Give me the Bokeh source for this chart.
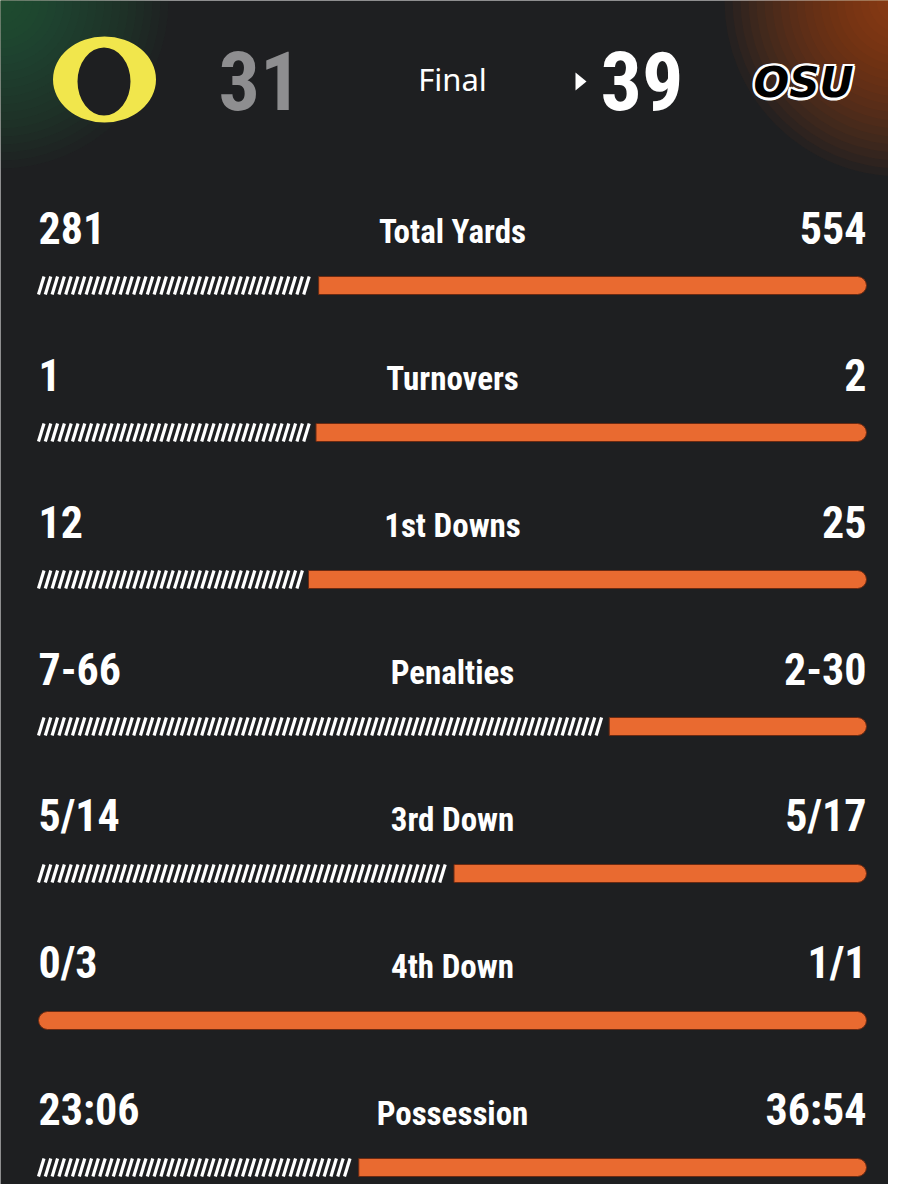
import numpy as np
from bokeh.plotting import figure
from bokeh.models import Range1d
from bokeh.core.properties import value
from bokeh.embed import file_html
from bokeh.resources import INLINE

# ---------------- data ----------------
stats = ["Total Yards", "Turnovers", "1st Downs", "Penalties", "3rd Down", "4th Down", "Possession"]
oregon_text = ["281", "1", "12", "7-66", "5/14", "0/3", "23:06"]
osu_text = ["554", "2", "25", "2-30", "5/17", "1/1", "36:54"]
oregon_value = [281, 1, 12, 66, 5, 0, 1386]
osu_value = [554, 2, 25, 30, 5, 1, 2214]
scores = ["31", "39"]
status = "Final"

# ---------------- style ----------------
BG = "#1e1f21"
ORANGE = "#e96a30"
YELLOW = "#f1e64c"
GRAY = "#8e8e90"
NUM_FONT = value("Roboto Condensed, DejaVu Sans Condensed, Roboto, sans-serif")
W, H = 888, 1184

# layout helpers: page pixel -> data units (x: share of bar, y: row index)
def X(px):
    return (px - 38) / 828.0

def Y(py):
    return (py - 285) / 147.0

p = figure(width=W, height=H,
           x_range=Range1d(X(0), X(W)), y_range=Range1d(Y(H), Y(0)),
           output_backend="svg", toolbar_location=None, min_border=0,
           x_axis_location=None, y_axis_location=None,
           background_fill_color=BG, border_fill_color=BG)
p.grid.visible = False
p.outline_line_color = None

# corner glows
radii = np.arange(8, 176, 8)
p.circle(x=[X(0)] * len(radii), y=[Y(0)] * len(radii), radius=radii, radius_units="screen",
         fill_color="#2f7a3d", fill_alpha=0.045, line_color=None)
radii2 = np.arange(8, 184, 8)
p.circle(x=[X(900)] * len(radii2), y=[Y(0)] * len(radii2), radius=radii2, radius_units="screen",
         fill_color="#c2561c", fill_alpha=0.05, line_color=None)

# ---------------- header ----------------
# Oregon "O"
p.ellipse(x=[X(104)], y=[Y(79)], width=[103 / 828], height=[86 / 147],
          fill_color=YELLOW, line_color=None)
p.ellipse(x=[X(103.5)], y=[Y(81)], width=[53 / 828], height=[68 / 147],
          fill_color=BG, line_color=None)
p.text(x=[X(218)], y=[Y(80)], text=[scores[0]], text_font=NUM_FONT, text_font_style="bold",
       text_font_size="82px", text_color=GRAY, text_align="left", text_baseline="alphabetic")
p.text(x=[X(452)], y=[Y(78)], text=[status], text_font=value("Noto Sans"),
       text_font_size="31px", text_color="white", text_align="center", text_baseline="alphabetic")
p.patch(x=[X(575), X(575), X(586)], y=[Y(72), Y(90), Y(81)],
        fill_color="white", line_color=None)
p.text(x=[X(600)], y=[Y(80)], text=[scores[1]], text_font=NUM_FONT, text_font_style="bold",
       text_font_size="82px", text_color="white", text_align="left", text_baseline="alphabetic")
# OSU logo approximation
offs = [(-2.5, 0), (2.5, 0), (0, -2.5), (0, 2.5), (-2, -2), (2, 2), (-2, 2), (2, -2)]
for dx, dy in offs:
    p.text(x=[X(803 + dx)], y=[Y(82 + dy)], text=["OSU"], text_font=value("DejaVu Sans"),
           text_font_style="bold italic", text_font_size="42px", text_color="white",
           text_align="center", text_baseline="alphabetic")
p.text(x=[X(803)], y=[Y(82)], text=["OSU"], text_font=value("DejaVu Sans"),
       text_font_style="bold italic", text_font_size="42px", text_color="black",
       text_align="center", text_baseline="alphabetic")

# ---------------- rows ----------------
rows = np.arange(len(stats))
share = np.array(oregon_value, float) / (np.array(oregon_value, float) + np.array(osu_value, float))
gap = 1.5 / 828
bar_h = 18 / 147
has_left = share > 0

# striped (Oregon) part: diagonal white stripes
step = 6.8 / 828
slant = 5.5 / 828
sx0, sx1, sy0, sy1 = [], [], [], []
for r, s in zip(rows, share):
    if s <= 0:
        continue
    xs = np.arange(0, s - gap - slant, step)
    sx0.extend(xs)
    sx1.extend(xs + slant)
    sy0.extend([r + bar_h / 2] * len(xs))
    sy1.extend([r - bar_h / 2] * len(xs))
p.segment(x0=sx0, y0=sy0, x1=sx1, y1=sy1, line_color="white", line_width=3.2)

p.hbar(y=rows[has_left], left=share[has_left] + gap, right=1, height=bar_h,
       fill_color=ORANGE, line_color="#6b2a12", line_width=1, border_radius=(0, 9, 9, 0))
p.hbar(y=rows[~has_left], left=0, right=1, height=bar_h,
       fill_color=ORANGE, line_color="#6b2a12", line_width=1, border_radius=9)

p.text(x=[0] * len(rows), y=rows - 58 / 147, text=oregon_text, text_font=NUM_FONT,
       text_font_style="bold", text_font_size="44px", text_color="white",
       text_align="left", text_baseline="alphabetic")
p.text(x=[1] * len(rows), y=rows - 58 / 147, text=osu_text, text_font=NUM_FONT,
       text_font_style="bold", text_font_size="44px", text_color="white",
       text_align="right", text_baseline="alphabetic")
p.text(x=[0.5] * len(rows), y=rows - 54 / 147, text=stats, text_font=NUM_FONT,
       text_font_style="bold", text_font_size="33px", text_color="white",
       text_align="center", text_baseline="alphabetic")

open("out.html", "w").write(file_html(p, INLINE))
